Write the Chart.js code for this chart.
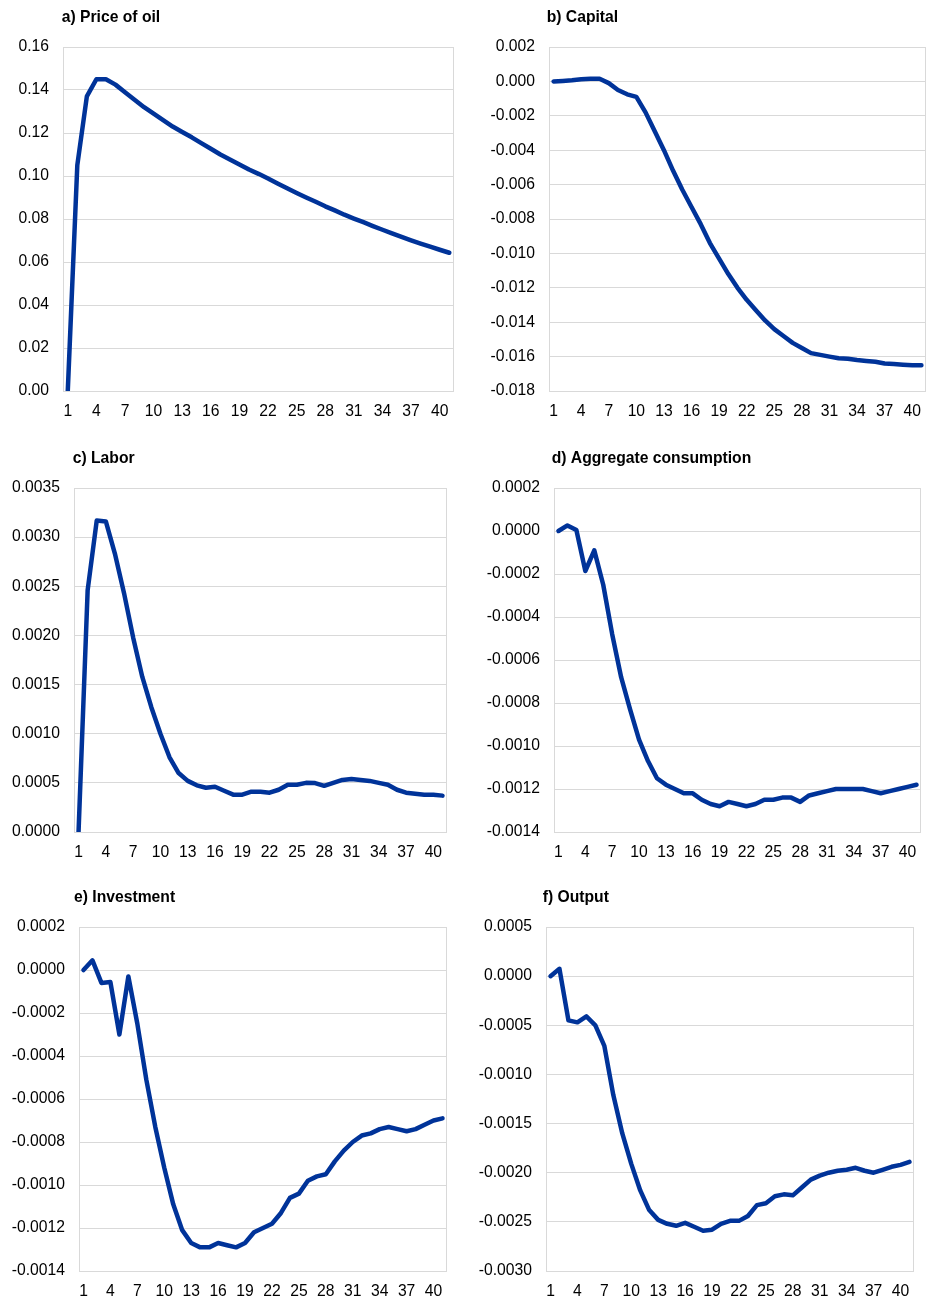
<!DOCTYPE html>
<html>
<head>
<meta charset="utf-8">
<script src="https://cdn.jsdelivr.net/npm/chart.js@4.4.0/dist/chart.umd.min.js"></script>
<style>
  html, body { margin: 0; padding: 0; background: #ffffff; }
  body { width: 930px; height: 1300px; position: relative; overflow: hidden; }
  .cell { position: absolute; width: 465px; height: 420px; }
  canvas { display: block; }
</style>
</head>
<body>
<div class="cell" style="left:0px;top:0px"><canvas id="c0" width="465" height="420" style="width:465px;height:420px"></canvas></div>
<div class="cell" style="left:465px;top:0px"><canvas id="c1" width="465" height="420" style="width:465px;height:420px"></canvas></div>
<div class="cell" style="left:0px;top:440px"><canvas id="c2" width="465" height="420" style="width:465px;height:420px"></canvas></div>
<div class="cell" style="left:465px;top:440px"><canvas id="c3" width="465" height="420" style="width:465px;height:420px"></canvas></div>
<div class="cell" style="left:0px;top:880px"><canvas id="c4" width="465" height="420" style="width:465px;height:420px"></canvas></div>
<div class="cell" style="left:465px;top:880px"><canvas id="c5" width="465" height="420" style="width:465px;height:420px"></canvas></div>
<script>
// ---------------- DATA ----------------
const periods = ["1","2","3","4","5","6","7","8","9","10","11","12","13","14","15","16","17","18","19","20",
  "21","22","23","24","25","26","27","28","29","30","31","32","33","34","35","36","37","38","39","40","41"];
const xTickLabels = ["1","4","7","10","13","16","19","22","25","28","31","34","37","40"];

const titles = ["a) Price of oil", "b) Capital", "c) Labor", "d) Aggregate consumption", "e) Investment", "f) Output"];

const oilPrice = [0, 0.105, 0.137, 0.145, 0.145, 0.1425, 0.139, 0.1355, 0.132, 0.129,
  0.126, 0.123, 0.1205, 0.118, 0.1153, 0.1127, 0.110, 0.1077, 0.1054, 0.103,
  0.101, 0.0988, 0.0965, 0.0943, 0.0921, 0.090, 0.088, 0.0859, 0.084, 0.082,
  0.0802, 0.0785, 0.0767, 0.075, 0.0733, 0.0717, 0.0701, 0.0686, 0.0671, 0.0657, 0.0643];

const capital = [0, 0.00003, 0.00007, 0.00013, 0.00015, 0.00015, -0.0001, -0.0005, -0.00075, -0.0009,
  -0.0018, -0.0029, -0.0040, -0.0052, -0.0063, -0.0073, -0.0083, -0.0094, -0.0103, -0.0112,
  -0.0120, -0.0127, -0.0133, -0.0139, -0.0144, -0.0148, -0.0152, -0.0155, -0.0158, -0.0159,
  -0.0160, -0.0161, -0.01613, -0.0162, -0.01625, -0.0163, -0.0164, -0.01643, -0.01647, -0.0165, -0.0165];

const labor = [0, 0.00246, 0.00317, 0.00316, 0.00283, 0.00243, 0.00198, 0.00158, 0.00127, 0.00100,
  0.00076, 0.00060, 0.00052, 0.000475, 0.00045, 0.00046, 0.00042, 0.00038, 0.00038, 0.00041,
  0.00041, 0.00040, 0.00043, 0.00048, 0.00048, 0.00050, 0.000498, 0.00047, 0.00050, 0.00053,
  0.00054, 0.00053, 0.00052, 0.00050, 0.00048, 0.00043, 0.00040, 0.00039, 0.00038, 0.00038, 0.00037];

const consumption = [0, 0.000026, 0.000005, -0.000186, -0.00009, -0.00025, -0.00048, -0.00068, -0.00083, -0.00097,
  -0.00107, -0.00115, -0.00118, -0.0012, -0.00122, -0.00122, -0.00125, -0.00127, -0.00128, -0.00126,
  -0.00127, -0.00128, -0.00127, -0.00125, -0.00125, -0.00124, -0.00124, -0.00126, -0.00123, -0.00122,
  -0.00121, -0.0012, -0.0012, -0.0012, -0.0012, -0.00121, -0.00122, -0.00121, -0.0012, -0.00119, -0.00118];

const investment = [0, 0.000045, -0.00006, -0.000056, -0.0003, -0.00003, -0.00025, -0.00051, -0.00073, -0.00092,
  -0.00109, -0.00121, -0.00127, -0.00129, -0.00129, -0.00127, -0.00128, -0.00129, -0.00127, -0.00122,
  -0.0012, -0.00118, -0.00113, -0.00106, -0.00104, -0.00098, -0.00096, -0.00095, -0.00089, -0.00084,
  -0.0008, -0.00077, -0.00076, -0.00074, -0.00073, -0.00074, -0.00075, -0.00074, -0.00072, -0.0007, -0.00069];

const output = [0, 0.000075, -0.00045, -0.00047, -0.00041, -0.0005, -0.00071, -0.00121, -0.0016, -0.00191,
  -0.00218, -0.00238, -0.00248, -0.00252, -0.00254, -0.00251, -0.00255, -0.00259, -0.00258, -0.00252,
  -0.00249, -0.00249, -0.00244, -0.00233, -0.00231, -0.00224, -0.00222, -0.00223, -0.00215, -0.00207,
  -0.00203, -0.002, -0.00198, -0.00197, -0.00195, -0.00198, -0.002, -0.00197, -0.00194, -0.00192, -0.00189];

const yMin = [0, -0.018, 0, -0.0014, -0.0014, -0.003];
const yMax = [0.16, 0.002, 0.0035, 0.0002, 0.0002, 0.0005];
const yStep = [0.02, 0.002, 0.0005, 0.0002, 0.0002, 0.0005];
const yDecimals = [2, 3, 4, 4, 4, 4];

// ---------------- LAYOUT / STYLE ----------------
const series = [oilPrice, capital, labor, consumption, investment, output];
const layout = [
  { left: 0,   top: 0,   L: 63,  R: 454, T: 47,  B: 391,  tx: 61.7,  ty: 22.3 },
  { left: 465, top: 0,   L: 549, R: 926, T: 47,  B: 391,  tx: 546.7, ty: 22.3 },
  { left: 0,   top: 440, L: 74,  R: 447, T: 488, B: 832,  tx: 72.7,  ty: 463.3 },
  { left: 465, top: 440, L: 554, R: 921, T: 488, B: 832,  tx: 551.7, ty: 463.3 },
  { left: 0,   top: 880, L: 79,  R: 447, T: 927, B: 1271, tx: 74,    ty: 902 },
  { left: 465, top: 880, L: 546, R: 914, T: 927, B: 1271, tx: 542.7, ty: 902 }
];
const CELL_H = 420;
const LINE_COLOR = '#003399';
const GRID_COLOR = '#d9d9d9';
const FONT_FAMILY = '"Liberation Sans", Arial, Helvetica, sans-serif';
const FONT_SIZE = 15.7;

const framePlugin = {
  id: 'frame',
  beforeDatasetsDraw(chart) {
    const a = chart.chartArea;
    const ctx = chart.ctx;
    ctx.save();
    ctx.strokeStyle = GRID_COLOR;
    ctx.lineWidth = 1;
    ctx.strokeRect(Math.round(a.left) + 0.5, Math.round(a.top) + 0.5,
      Math.round(a.right) - Math.round(a.left) - 1, Math.round(a.bottom) - Math.round(a.top));
    ctx.restore();
  },
  afterDraw(chart, args, opts) {
    const ctx = chart.ctx;
    ctx.save();
    ctx.fillStyle = '#000000';
    ctx.font = 'bold ' + FONT_SIZE + 'px ' + FONT_FAMILY;
    ctx.textBaseline = 'alphabetic';
    ctx.textAlign = 'left';
    ctx.fillText(opts.text, opts.x, opts.y);
    ctx.restore();
  }
};

function makeChart(i) {
  const p = layout[i];
  const canvas = document.getElementById('c' + i);
  const dec = yDecimals[i];
  new Chart(canvas, {
    type: 'line',
    data: {
      labels: periods,
      datasets: [{
        data: series[i],
        borderColor: LINE_COLOR,
        backgroundColor: LINE_COLOR,
        borderWidth: 4.5,
        pointRadius: 0,
        pointHoverRadius: 0,
        tension: 0,
        fill: false,
        borderJoinStyle: 'round',
        borderCapStyle: 'round'
      }]
    },
    options: {
      responsive: false,
      animation: false,
      devicePixelRatio: 1,
      events: [],
      layout: { padding: { left: 0, top: p.T - p.top, right: (p.left + 465) - p.R, bottom: 0 } },
      plugins: {
        legend: { display: false },
        tooltip: { enabled: false },
        title: { display: false },
        frame: { text: titles[i], x: p.tx - p.left, y: p.ty - p.top }
      },
      scales: {
        x: {
          type: 'category',
          offset: true,
          grid: { display: false, drawTicks: false },
          border: { display: false },
          ticks: {
            autoSkip: false,
            maxRotation: 0,
            minRotation: 0,
            padding: 11,
            color: '#000000',
            font: { family: FONT_FAMILY, size: FONT_SIZE },
            callback: function (v, idx) {
              const lab = periods[idx];
              return xTickLabels.indexOf(lab) >= 0 ? lab : '';
            }
          },
          afterFit: function (s) {
            s.height = (p.top + CELL_H) - p.B;
            s.paddingLeft = 0;
            s.paddingRight = 0;
          }
        },
        y: {
          type: 'linear',
          min: yMin[i],
          max: yMax[i],
          grid: { color: GRID_COLOR, lineWidth: 1, drawTicks: false },
          border: { display: false },
          ticks: {
            stepSize: yStep[i],
            padding: 14,
            color: '#000000',
            font: { family: FONT_FAMILY, size: FONT_SIZE },
            callback: function (v) {
              const val = Math.abs(v) < 1e-12 ? 0 : v;
              return val.toFixed(dec);
            }
          },
          afterFit: function (s) {
            s.width = p.L - p.left;
            s.paddingTop = 0;
            s.paddingBottom = 0;
          }
        }
      }
    },
    plugins: [framePlugin]
  });
}

for (let i = 0; i < 6; i++) makeChart(i);
</script>
</body>
</html>
